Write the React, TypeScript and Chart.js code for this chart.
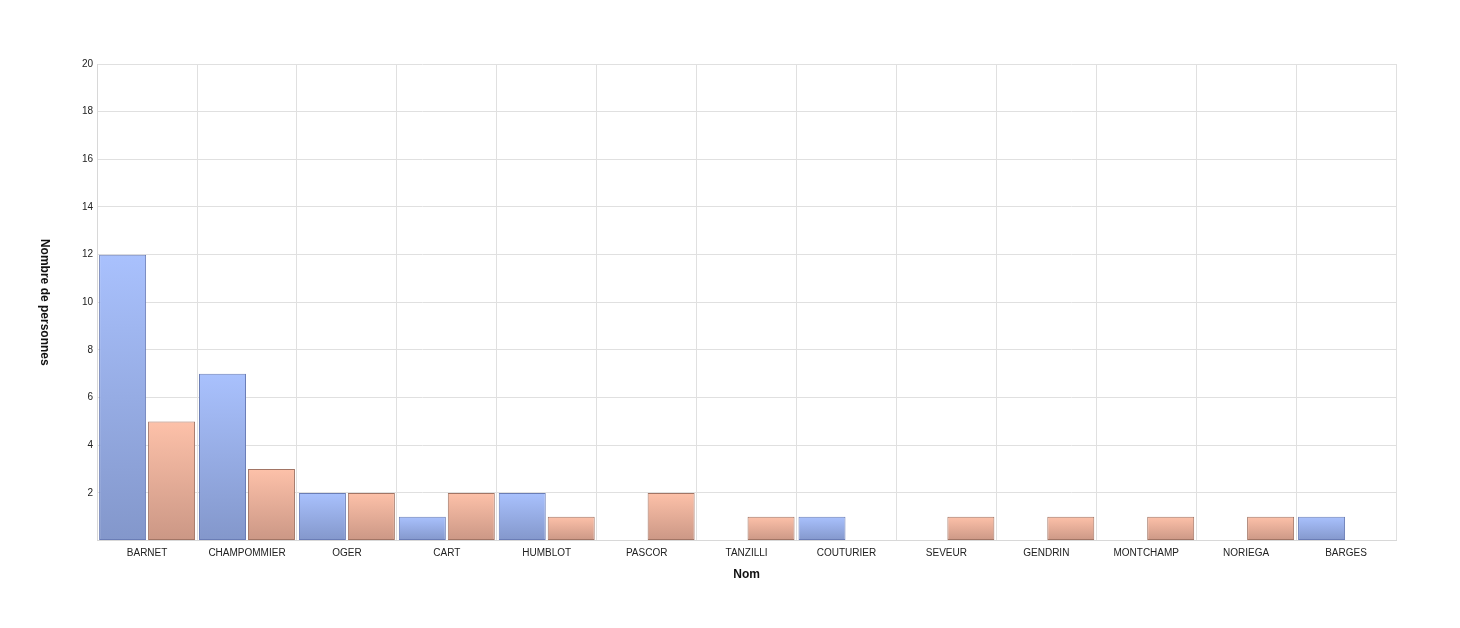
import { useEffect, useRef } from "react"
import { Chart, registerables, ChartOptions, Plugin } from "chart.js"

Chart.register(...registerables)

const noms = [
  "BARNET", "CHAMPOMMIER", "OGER", "CART", "HUMBLOT", "PASCOR", "TANZILLI",
  "COUTURIER", "SEVEUR", "GENDRIN", "MONTCHAMP", "NORIEGA", "BARGES",
]
const serieBleue = [12, 7, 2, 1, 2, null, null, 1, null, null, null, null, 1]
const serieOrange = [5, 3, 2, 2, 1, 2, 1, null, 1, 1, 1, 1, null]
const yTicks = [2, 4, 6, 8, 10, 12, 14, 16, 18, 20]

const FONT = "'Liberation Sans', Arial, sans-serif"

// vertical gradient per bar, light at the top, darker at the base
const barGradient = (top: string, bottom: string) => (ctx: any) => {
  const chart = ctx.chart
  const y = chart.scales?.y
  if (!chart.chartArea || !y || ctx.raw == null) return top
  const yTop = y.getPixelForValue(ctx.raw)
  const yBase = y.getPixelForValue(0)
  const g = chart.ctx.createLinearGradient(0, yTop, 0, yBase)
  g.addColorStop(0, top)
  g.addColorStop(1, bottom)
  return g
}

// y title reads top to bottom (rotated +90deg)
const yTitlePlugin: Plugin<"bar"> = {
  id: "yTitle",
  afterDraw: (chart) => {
    const { ctx, chartArea } = chart
    ctx.save()
    ctx.translate(36, (chartArea.top + chartArea.bottom) / 2)
    ctx.rotate(Math.PI / 2)
    ctx.font = `bold 12px ${FONT}`
    ctx.fillStyle = "#111"
    ctx.textAlign = "center"
    ctx.textBaseline = "middle"
    ctx.fillText("Nombre de personnes", 0, 0)
    ctx.restore()
  },
}

export default function App() {
  const chartRef = useRef<HTMLCanvasElement>(null)
  const chartInstance = useRef<Chart | null>(null)

  useEffect(() => {
    if (!chartRef.current) return
    if (chartInstance.current) chartInstance.current.destroy()

    const options: ChartOptions<"bar"> = {
      responsive: true,
      maintainAspectRatio: false,
      animation: false,
      layout: { padding: { top: 56, right: 56, left: 70, bottom: 34 } },
      plugins: {
        legend: { display: false },
        tooltip: { enabled: false },
      },
      datasets: {
        bar: { categoryPercentage: 0.98, barPercentage: 0.96 },
      },
      scales: {
        x: {
          grid: { color: "#e0e0e0", drawTicks: false, offset: true },
          border: { color: "#d8d8d8" },
          ticks: {
            color: "#222",
            font: { family: FONT, size: 10 },
            padding: 7,
            maxRotation: 0,
            autoSkip: false,
          },
          title: {
            display: true,
            text: "Nom",
            color: "#111",
            font: { family: FONT, size: 12, weight: "bold" },
            padding: { top: 1, bottom: 4 },
          },
        },
        y: {
          min: 0,
          max: 20,
          afterBuildTicks: (axis) => {
            axis.ticks = [0, ...yTicks].map((v) => ({ value: v }))
          },
          grid: { color: "#e0e0e0", drawTicks: false },
          border: { color: "#d8d8d8" },
          ticks: {
            color: "#222",
            font: { family: FONT, size: 10 },
            padding: 4,
            callback: (v) => (v === 0 ? "" : String(v)),
          },
        },
      },
    }

    chartInstance.current = new Chart(chartRef.current, {
      type: "bar",
      data: {
        labels: noms,
        datasets: [
          {
            label: "Série 1",
            data: serieBleue,
            backgroundColor: barGradient("#a9c1fd", "#8397cb"),
            borderColor: "#6a7db6",
            borderWidth: 1,
            borderSkipped: false,
          },
          {
            label: "Série 2",
            data: serieOrange,
            backgroundColor: barGradient("#fdc1a9", "#cb9785"),
            borderColor: "#a27565",
            borderWidth: 1,
            borderSkipped: false,
          },
        ],
      },
      options,
      plugins: [yTitlePlugin],
    })

    return () => {
      if (chartInstance.current) {
        chartInstance.current.destroy()
        chartInstance.current = null
      }
    }
  }, [])

  return (
    <div style={{ width: 1444, height: 612 }}>
      <canvas ref={chartRef} />
    </div>
  )
}
